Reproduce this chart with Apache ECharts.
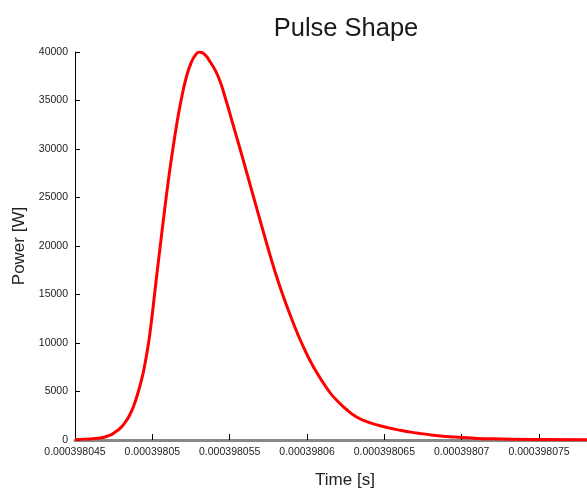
<!DOCTYPE html>
<html>
<head>
<meta charset="utf-8">
<script src="https://cdn.jsdelivr.net/npm/echarts@6/dist/echarts.min.js"></script>
<style>
  html, body { margin: 0; padding: 0; background: #fff; }
  #chart { width: 587px; height: 489px; }
</style>
</head>
<body>
<div id="chart"></div>
<script>
// time in ns (absolute), shown on the axis as seconds
var timeNs = [
  398045.000, 398045.647, 398046.617, 398047.264, 398047.587, 398047.911, 398048.234, 398048.512,
  398048.816, 398049.094, 398049.301, 398049.483, 398049.754, 398049.961, 398050.142, 398050.323,
  398050.511, 398050.699, 398050.893, 398051.100, 398051.326, 398051.572, 398051.856, 398052.212,
  398052.536, 398052.794, 398053.040, 398053.344, 398053.732, 398054.250, 398054.767, 398055.220,
  398055.673, 398056.113, 398056.552, 398056.992, 398057.439, 398057.904, 398058.422, 398059.004,
  398059.651, 398060.427, 398061.430, 398061.980, 398062.659, 398063.080, 398063.690, 398064.660,
  398066.020, 398067.190, 398068.160, 398069.580, 398070.680, 398071.970, 398073.460, 398075.080,
  398078.120
];
var powerW = [
  60, 90, 200, 500, 800, 1200, 1800, 2500,
  3600, 5000, 6200, 7500, 10000, 12500, 15000, 17500,
  20000, 22500, 25000, 27500, 30000, 32500, 35000, 37500,
  39000, 39700, 40000, 39800, 39000, 37500, 35000, 32500,
  30000, 27500, 25000, 22500, 20000, 17500, 15000, 12500,
  10000, 7500, 5000, 4000, 3000, 2500, 2000, 1500,
  1000, 700, 500, 300, 200, 120, 70, 50,
  35
];
var xTicks = [398045, 398050, 398055, 398060, 398065, 398070, 398075];
var yTicks = [0, 5000, 10000, 15000, 20000, 25000, 30000, 35000, 40000];

var pts = [];
for (var i = 0; i < timeNs.length; i++) {
  pts.push([timeNs[i], powerW[i]]);
}

function secLabel(v) {
  // 398050 ns -> 0.00039805 s
  return ('0.000' + Math.round(v)).replace(/0+$/, '');
}

var font = 'Liberation Sans, Arial, sans-serif';
var myChart = echarts.init(document.getElementById('chart'), null, { renderer: 'canvas' });

var option = {
  animation: false,
  backgroundColor: '#ffffff',
  title: {
    text: 'Pulse Shape',
    left: 341,
    textAlign: 'center',
    top: 11,
    textStyle: { fontFamily: font, fontSize: 25.5, fontWeight: 'normal', color: '#1a1a1a' }
  },
  grid: { left: 75, right: 0, top: 52, bottom: 49, containLabel: false, outerBoundsMode: 'none' },
  xAxis: {
    type: 'value',
    min: 398045,
    max: 398078.1,
    interval: 5,
    name: 'Time [s]',
    nameLocation: 'middle',
    nameGap: 32,
    nameTextStyle: { fontFamily: font, fontSize: 17, color: '#222', padding: [0, 0, 0, 28] },
    axisLine: { lineStyle: { color: '#888888', width: 3 } },
    axisTick: { inside: true, length: 6, lineStyle: { color: '#000', width: 1 }, customValues: xTicks },
    axisLabel: {
      fontFamily: font, fontSize: 10.5, color: '#222', margin: 7,
      customValues: xTicks,
      formatter: secLabel
    },
    splitLine: { show: false }
  },
  yAxis: {
    type: 'value',
    min: 0,
    max: 40000,
    interval: 5000,
    name: 'Power [W]',
    nameLocation: 'middle',
    nameGap: 47,
    nameRotate: 90,
    nameTextStyle: { fontFamily: font, fontSize: 17, color: '#222' },
    axisLine: { show: true, lineStyle: { color: '#000', width: 1 } },
    axisTick: { show: true, inside: true, length: 5, lineStyle: { color: '#000', width: 1 }, customValues: yTicks },
    axisLabel: {
      fontFamily: font, fontSize: 10.5, color: '#222', margin: 7, customValues: yTicks,
      formatter: function (v) { return String(v); }
    },
    splitLine: { show: false }
  },
  series: [{
    type: 'line',
    data: pts,
    showSymbol: false,
    smooth: 0.5,
    lineStyle: { color: '#ff0000', width: 3 },
    z: 3
  }]
};

myChart.setOption(option);
</script>
</body>
</html>
